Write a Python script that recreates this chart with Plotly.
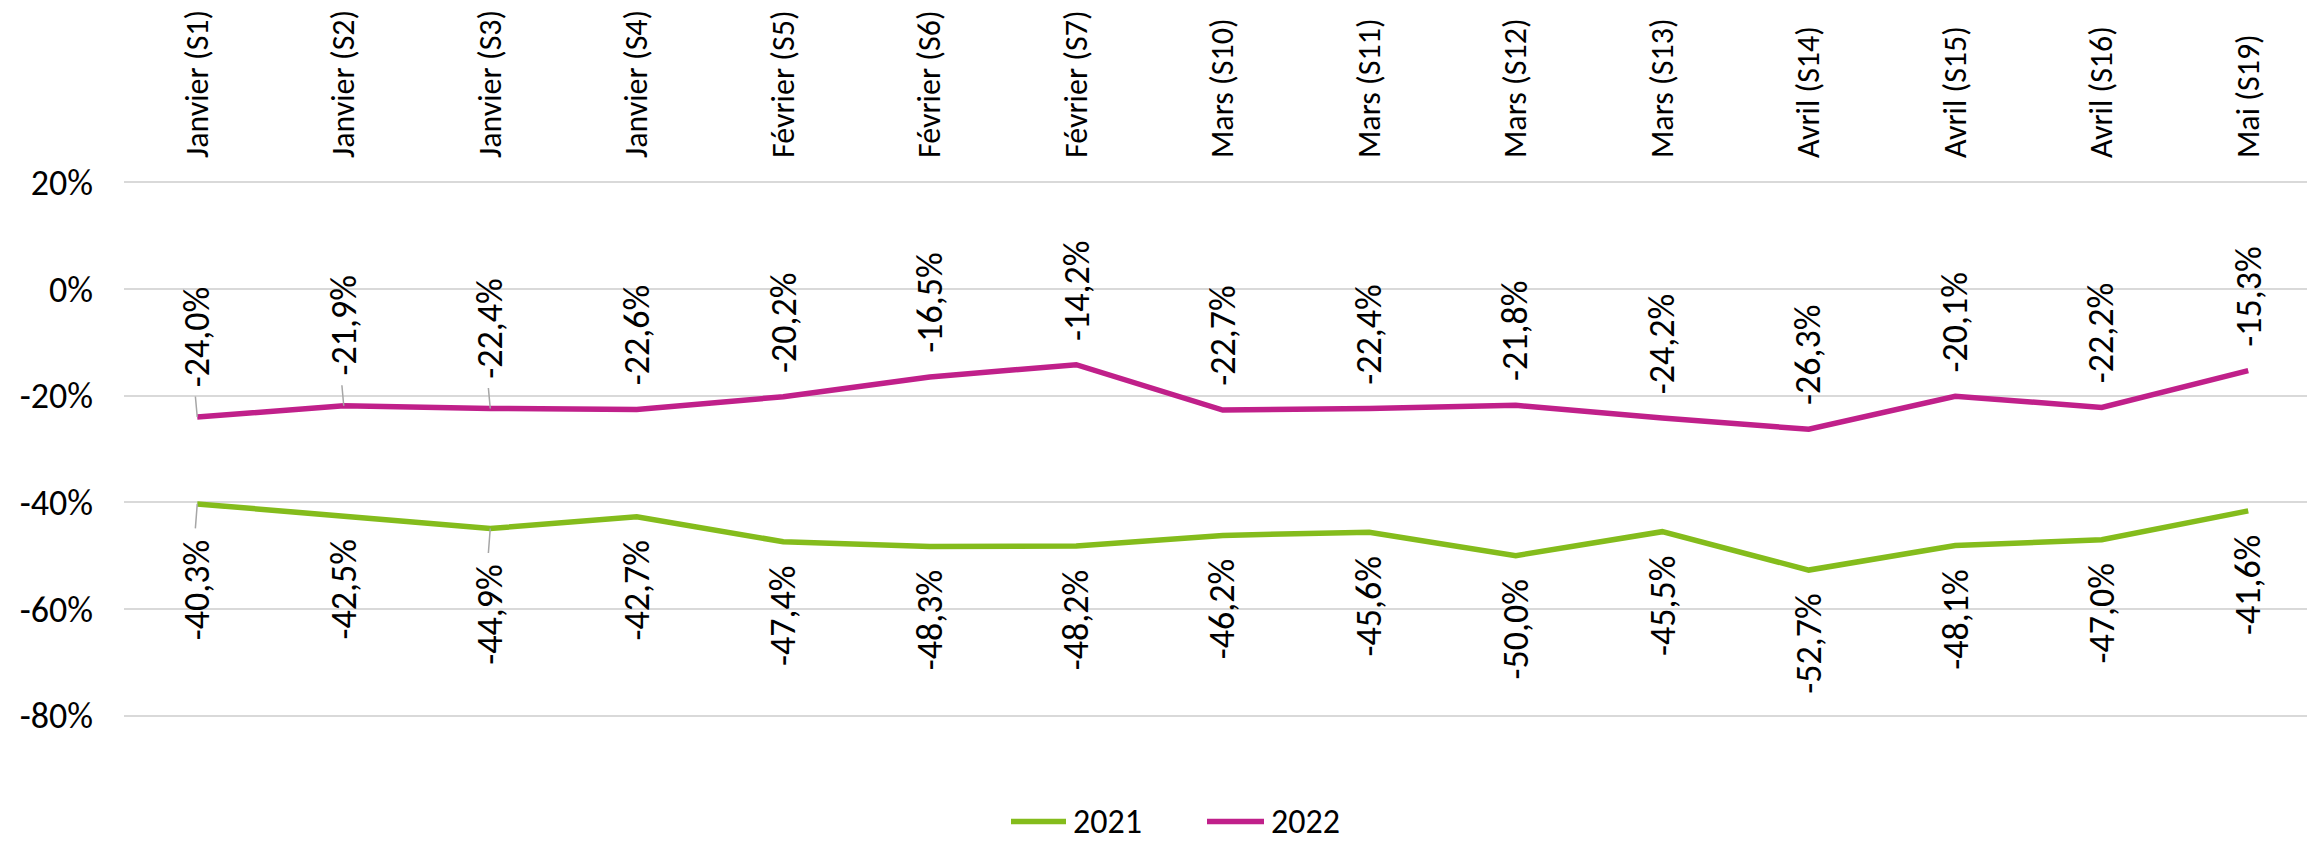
import plotly.graph_objects as go

# Weekly change in activity vs. reference period, by week of year
categories = [
    "Janvier (S1)", "Janvier (S2)", "Janvier (S3)", "Janvier (S4)",
    "Février (S5)", "Février (S6)", "Février (S7)",
    "Mars (S10)", "Mars (S11)", "Mars (S12)", "Mars (S13)",
    "Avril (S14)", "Avril (S15)", "Avril (S16)", "Mai (S19)",
]
values_2021 = [-40.3, -42.5, -44.9, -42.7, -47.4, -48.3, -48.2, -46.2,
               -45.6, -50.0, -45.5, -52.7, -48.1, -47.0, -41.6]
values_2022 = [-24.0, -21.9, -22.4, -22.6, -20.2, -16.5, -14.2, -22.7,
               -22.4, -21.8, -24.2, -26.3, -20.1, -22.2, -15.3]
series_names = ["2021", "2022"]
y_ticks = [20, 0, -20, -40, -60, -80]

# labels pulled a bit away from their point, joined by a thin leader line
leader_2021 = [0, 2]
leader_2022 = [0, 1, 2]

GREEN = "#84BC1C"
PINK = "#C0208A"
GRID = "#D9D9D9"
FONT = "Carlito, Calibri, Lato, sans-serif"
TEXT = "#000000"

W, H = 2307, 844
L_MARGIN, R_MARGIN = 124, 0
PX_PER_UNIT = 5.34
Y_MIN, Y_MAX = -81, 21
T_MARGIN = 182 - PX_PER_UNIT
B_MARGIN = H - 716 - PX_PER_UNIT
SLOT = 146.5
X_MAX = -0.5 + (W - L_MARGIN - R_MARGIN) / SLOT


def fmt(v):
    return f"{v:.1f}%".replace(".", ",")


fig = go.Figure()
fig.add_trace(go.Scatter(x=categories, y=values_2021, mode="lines",
                         line=dict(color=GREEN, width=5.5), name=series_names[0],
                         showlegend=False, hoverinfo="skip"))
fig.add_trace(go.Scatter(x=categories, y=values_2022, mode="lines",
                         line=dict(color=PINK, width=5.5), name=series_names[1],
                         showlegend=False, hoverinfo="skip"))

annotations = []
for i, (cat, v) in enumerate(zip(categories, values_2022)):
    gap = 28 if i in leader_2022 else 22
    annotations.append(dict(x=cat, y=v, xref="x", yref="y", text=fmt(v),
                            textangle=-90, showarrow=False, yanchor="bottom",
                            xanchor="center", yshift=gap,
                            font=dict(family=FONT, size=36, color=TEXT)))
    if i in leader_2022:
        annotations.append(dict(x=cat, y=v, xref="x", yref="y", text="",
                                showarrow=True, arrowhead=0, arrowwidth=1.5,
                                arrowcolor="#A6A6A6", ax=-2, ay=-(gap - 6),
                                standoff=0, startstandoff=0))
for i, (cat, v) in enumerate(zip(categories, values_2021)):
    gap = 34 if i in leader_2021 else 22
    annotations.append(dict(x=cat, y=v, xref="x", yref="y", text=fmt(v),
                            textangle=-90, showarrow=False, yanchor="top",
                            xanchor="center", yshift=-gap,
                            font=dict(family=FONT, size=36, color=TEXT)))
    if i in leader_2021:
        annotations.append(dict(x=cat, y=v, xref="x", yref="y", text="",
                                showarrow=True, arrowhead=0, arrowwidth=1.5,
                                arrowcolor="#A6A6A6", ax=-2, ay=gap - 8,
                                standoff=0, startstandoff=0))

# legend drawn below the plot: short thick line followed by the series name
plot_w = W - L_MARGIN - R_MARGIN
plot_h = H - T_MARGIN - B_MARGIN
legend_y_px = 822
ly = (H - B_MARGIN - legend_y_px) / plot_h
legend_items = [(series_names[0], GREEN, 1011, 1066), (series_names[1], PINK, 1207, 1264)]
shapes = []
for name, color, x0, x1 in legend_items:
    shapes.append(dict(type="line", xref="paper", yref="paper",
                       x0=(x0 - L_MARGIN) / plot_w, x1=(x1 - L_MARGIN) / plot_w,
                       y0=ly, y1=ly, line=dict(color=color, width=5.5)))
    annotations.append(dict(xref="paper", yref="paper", x=(x1 + 5 - L_MARGIN) / plot_w,
                            y=ly, text=name, showarrow=False, xanchor="left",
                            yanchor="middle", font=dict(family=FONT, size=34, color=TEXT)))

fig.update_layout(
    width=W, height=H,
    margin=dict(l=L_MARGIN, r=R_MARGIN, t=T_MARGIN, b=B_MARGIN, autoexpand=False),
    paper_bgcolor="white", plot_bgcolor="white",
    showlegend=False,
    annotations=annotations,
    shapes=shapes,
    font=dict(family=FONT, color=TEXT),
    xaxis=dict(type="category", side="top", range=[-0.5, X_MAX],
               tickangle=-90, ticks="", showgrid=False, zeroline=False,
               showline=False, tickfont=dict(family=FONT, size=32, color=TEXT),
               ticklabelstandoff=18, automargin=False),
    yaxis=dict(range=[Y_MIN, Y_MAX], tickvals=y_ticks,
               ticktext=[f"{t}%" for t in y_ticks], ticks="",
               showgrid=True, gridcolor=GRID, gridwidth=2, zeroline=False,
               showline=False, tickfont=dict(family=FONT, size=36, color=TEXT),
               ticklabelstandoff=30, automargin=False),
)

fig.write_html("out.html")
